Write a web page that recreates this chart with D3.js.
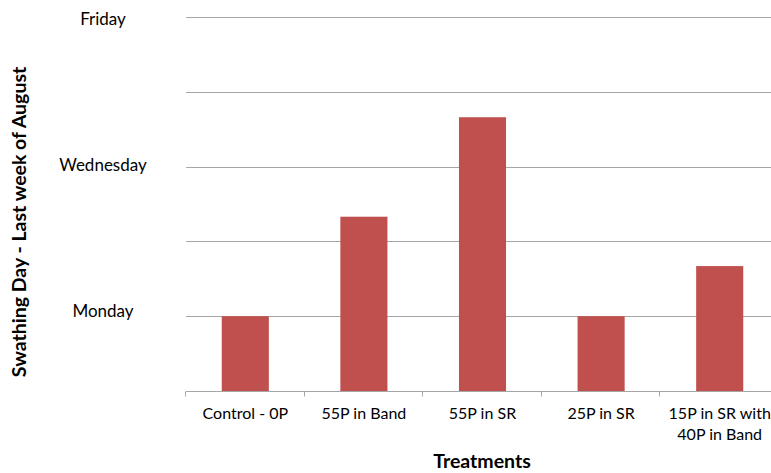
<!DOCTYPE html>
<html><head><meta charset="utf-8">
<script src="https://cdn.jsdelivr.net/npm/d3@7"></script>
<style>body{margin:0;background:#fff;} text{font-family:Lato,"Open Sans",sans-serif;}</style>
</head><body>
<svg id="c" width="771" height="473"></svg>
<script>
const categories = ["Control - 0P", "55P in Band", "55P in SR", "25P in SR", "15P in SR with\n40P in Band"];
const values = [1, 2.33, 3.66, 1, 1.67];
const tickValues = [1, 3, 5];
const tickLabels = {1: "Monday", 3: "Wednesday", 5: "Friday"};
const gridValues = [1, 2, 3, 4, 5];

(function () {
const svg = d3.select("#c");
const pLeft = 186, pRight = 779, pTop = 17, pBottom = 391;
const x = d3.scaleBand().domain(categories).range([pLeft, pRight]).paddingInner(0.603).paddingOuter(0.3015);
const y = d3.scaleLinear().domain([0, 5]).range([pBottom, pTop]);
const yLabel = d3.scaleLinear().domain([0, 5]).range([390, 25]);

// gridlines
svg.append("g").selectAll("line").data(gridValues).join("line")
  .attr("x1", pLeft).attr("x2", 771)
  .attr("y1", d => Math.round(y(d)) + 0.5).attr("y2", d => Math.round(y(d)) + 0.5)
  .attr("stroke", "#a6a6a6").attr("stroke-width", 1);

// y labels
svg.append("g").selectAll("text").data(tickValues).join("text")
  .attr("x", 103).attr("y", d => yLabel(d))
  .attr("text-anchor", "middle").attr("font-size", 17).attr("fill", "#000")
  .text(d => tickLabels[d]);

// bars
svg.append("g").selectAll("rect").data(categories).join("rect")
  .attr("x", d => x(d)).attr("width", x.bandwidth())
  .attr("y", (d, i) => y(values[i])).attr("height", (d, i) => pBottom - y(values[i]))
  .attr("fill", "#c0504d");

// x axis
const gx = svg.append("g").attr("transform", `translate(0,${pBottom + 0.5})`);
gx.append("line").attr("x1", pLeft).attr("x2", 771).attr("stroke", "#a6a6a6");
const bounds = categories.map(c => x(c) - x.step() * x.paddingInner() / 2);
gx.selectAll("line.t").data(bounds).join("line").attr("class", "t")
  .attr("x1", d => Math.round(d) - 0.5).attr("x2", d => Math.round(d) - 0.5).attr("y1", 0).attr("y2", 5)
  .attr("stroke", "#a6a6a6");
const lbl = svg.append("g").selectAll("text").data(categories).join("text")
  .attr("text-anchor", "middle").attr("font-size", 16).attr("fill", "#000")
  .attr("transform", d => `translate(${x(d) + x.bandwidth() / 2},419)`);
lbl.each(function(d) {
  const lines = d.split("\n");
  d3.select(this).selectAll("tspan").data(lines).join("tspan")
    .attr("x", 0).attr("dy", (l, i) => i === 0 ? 0 : 21).text(l => l);
});

// axis titles
svg.append("text").attr("x", 482).attr("y", 468).attr("text-anchor", "middle")
  .attr("font-size", 19.5).attr("font-weight", "bold").text("Treatments");
svg.append("text").attr("transform", "translate(26,222) rotate(-90)").attr("text-anchor", "middle")
  .attr("font-size", 19.5).attr("font-weight", "bold").text("Swathing Day - Last week of August");
})();
</script>
</body></html>
